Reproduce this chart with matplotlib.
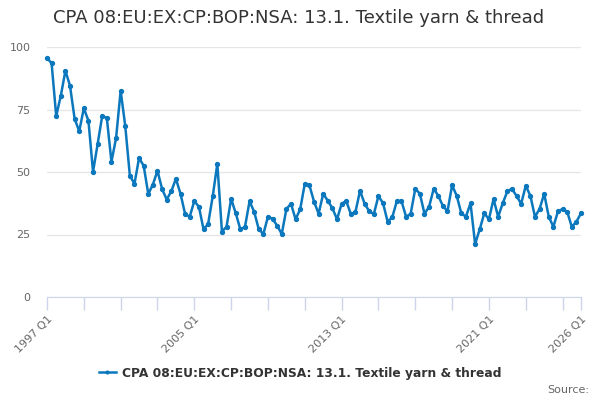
import matplotlib
matplotlib.use("Agg")
import matplotlib.pyplot as plt

# quarterly series, 1997 Q1 .. 2026 Q1
start_year = 1997
values = [
    95.6, 93.5, 72.4, 80.5, 90.5, 84.5, 71.3, 66.3, 75.5, 70.5,
    50.1, 61.2, 72.5, 71.5, 54.1, 63.5, 82.5, 68.4, 48.5, 45.3,
    55.6, 52.5, 41.2, 45.0, 50.5, 43.2, 39.0, 42.3, 47.3, 41.3,
    33.2, 32.1, 38.4, 36.1, 27.1, 29.2, 40.3, 53.3, 26.2, 28.1,
    39.3, 33.5, 27.1, 28.0, 38.3, 34.1, 27.1, 25.2, 32.1, 31.3,
    28.5, 25.2, 35.2, 37.3, 31.1, 35.1, 45.3, 44.7, 38.2, 33.3,
    41.3, 38.5, 35.5, 31.1, 37.3, 38.4, 33.2, 34.0, 42.5, 37.3,
    34.3, 33.2, 40.4, 37.5, 30.1, 31.9, 38.4, 38.4, 32.1, 33.3,
    43.3, 41.3, 33.3, 36.1, 43.3, 40.5, 36.4, 34.3, 44.7, 40.5,
    33.5, 32.1, 37.5, 21.2, 27.1, 33.5, 31.1, 39.2, 32.1, 37.5,
    42.3, 43.3, 40.4, 37.3, 44.5, 40.5, 32.1, 35.2, 41.3, 32.1,
    28.1, 34.3, 35.2, 34.1, 28.1, 30.1, 33.5,
]
quarters = [f"{start_year + i // 4} Q{i % 4 + 1}" for i in range(len(values))]
yticks = [0, 25, 50, 75, 100]
labelled = ["1997 Q1", "2005 Q1", "2013 Q1", "2021 Q1", "2026 Q1"]
series_name = "CPA 08:EU:EX:CP:BOP:NSA: 13.1. Textile yarn & thread"

line_col = "#0b77bd"
x = list(range(len(values)))

fig = plt.figure(figsize=(6, 4), dpi=100)
ax = fig.add_axes([47 / 600, 1 - 297 / 400, 534 / 600, 250 / 400])

ax.plot(x, values, "-o", color=line_col, lw=1.8, ms=2.8, label=series_name,
        zorder=3, clip_on=False)

ax.set_xlim(0, len(values) - 1)
ax.set_ylim(0, 100)
ax.set_yticks(yticks)
ax.grid(axis="y", color="#e6e6e6", lw=1)
ax.set_axisbelow(True)

# ticks every 8 quarters plus the last one; only some labelled
tick_pos = list(range(0, len(values), 8)) + [len(values) - 1]
ax.set_xticks(tick_pos)
ax.set_xticklabels([quarters[i] if quarters[i] in labelled else "" for i in tick_pos],
                   rotation=45, ha="right", rotation_mode="anchor")
ax.tick_params(axis="x", length=9, color="#ccd6eb", width=1, labelsize=8,
               labelcolor="#666666", pad=3)
ax.tick_params(axis="y", length=0, labelsize=8, labelcolor="#666666", pad=12)

for side in ("top", "right", "left"):
    ax.spines[side].set_visible(False)
ax.spines["bottom"].set_color("#ccd6eb")

fig.text(0.497, 1 - 18 / 400, series_name, ha="center", va="center",
         fontsize=13, color="#333333")
leg = fig.legend(loc="center", bbox_to_anchor=(0.5, 1 - 373 / 400), frameon=False,
                 prop={"size": 8.8, "weight": "bold"}, handlelength=1.4,
                 handletextpad=0.5, markerscale=0.7)
for t in leg.get_texts():
    t.set_color("#333333")
fig.text(589 / 600, 1 - 390 / 400, "Source:", ha="right", va="center",
         fontsize=8, color="#666666")

fig.savefig("out.png", dpi=100)
